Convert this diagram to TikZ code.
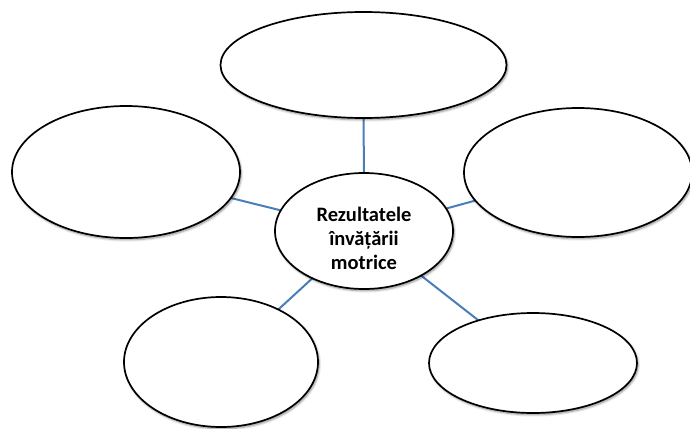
\documentclass[tikz,border=0pt]{standalone}
\usepackage{fontspec}
\setmainfont{Carlito}
\usetikzlibrary{shapes.geometric,shadows.blur,backgrounds}
\definecolor{linkblue}{HTML}{4A7EBB}
\tikzset{
  bubble/.style={ellipse, draw=black, line width=1.7pt, fill=white, inner sep=0pt,
    blur shadow={shadow xshift=1.2pt, shadow yshift=-1.8pt, shadow blur radius=2.2pt, shadow blur steps=6, shadow opacity=45}},
  link/.style={draw=linkblue, line width=2pt},
  label/.style={align=center, inner sep=0pt, font=\fontsize{20.5}{24}\selectfont\bfseries}
}
\begin{document}
\begin{tikzpicture}[x=1pt,y=-1pt]
\useasboundingbox (0,0) rectangle (690,428);
\node[bubble, minimum width=286pt, minimum height=106pt] (top) at (363.5,65) {};
\node[bubble, minimum width=228pt, minimum height=132pt] (left) at (126,172) {};
\node[bubble, minimum width=228pt, minimum height=129pt] (right) at (578,172.5) {};
\node[bubble, minimum width=194pt, minimum height=130pt] (bl) at (221,362) {};
\node[bubble, minimum width=208pt, minimum height=100pt] (br) at (533,363) {};
\node[bubble, minimum width=178pt, minimum height=116pt] (c) at (364,231) {};
\node[label] (ctext) at (364,238) {Rezultatele\\învățării\\motrice};
\begin{scope}[on background layer]
\draw[link] (top.center) -- (c.center);
\draw[link] (left.center) -- (c.center);
\draw[link] (right.center) -- (c.center);
\draw[link] (bl.center) -- (c.center);
\draw[link] (br.center) -- (c.center);
\end{scope}
\end{tikzpicture}
\end{document}
